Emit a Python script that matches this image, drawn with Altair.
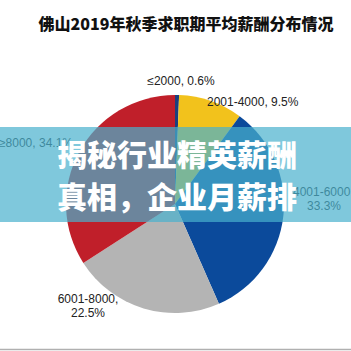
import altair as alt
import pandas as pd

# ---- data ----
categories = ["≤2000", "2001-4000", "4001-6000", "6001-8000", "≥8000"]
shares = [0.6, 9.5, 33.3, 22.5, 34.1]
colors = ["#1c3f7e", "#f2c21c", "#0b4a9b", "#b4b4b4", "#c01f2a"]
title_text = "佛山2019年秋季求职期平均薪酬分布情况"
banner_lines = ["揭秘行业精英薪酬", "真相，企业月薪排"]

df = pd.DataFrame({"cat": categories, "share": shares, "idx": list(range(len(categories)))})

W = H = 351
CX, CY, R = 175, 204, 109

pie = alt.Chart(df).mark_arc(outerRadius=R).encode(
    theta=alt.Theta("share:Q", stack=True),
    order=alt.Order("idx:Q"),
    color=alt.Color("cat:N", scale=alt.Scale(domain=categories, range=colors), legend=None),
    x=alt.value(CX),
    y=alt.value(CY),
)


def txt(s, x, y, size=12, align="center", color="#222222", weight="normal", font="Liberation Sans"):
    return alt.Chart(pd.DataFrame({"t": [s]})).mark_text(
        align=align, baseline="middle", fontSize=size, color=color,
        fontWeight=weight, font=font,
    ).encode(text="t:N", x=alt.value(x), y=alt.value(y))


lab = {c: f"{c}, {s}%" for c, s in zip(categories, shares)}

labels_under = [
    txt(lab["≥8000"], 73, 143, align="right", color="#2a2a2a"),
    txt("4001-6000,", 293, 192, align="left", color="#2a2a2a"),
    txt(f"{shares[2]}%", 324, 206, color="#2a2a2a"),
]

banner = alt.Chart(pd.DataFrame({"a": [0]})).mark_rect(color="#49b0cd", opacity=0.7).encode(
    x=alt.value(0), x2=alt.value(W), y=alt.value(127), y2=alt.value(222)
)

banner_text = [
    txt(banner_lines[0], 57, 157, size=30, align="left", color="white", weight=900, font="Noto Sans CJK SC"),
    txt(banner_lines[1], 57, 199, size=30, align="left", color="white", weight=900, font="Noto Sans CJK SC"),
]

title = txt(title_text, 186, 25, size=16, color="#111111", weight=900, font="Noto Sans CJK SC")

labels_over = [
    txt(lab["≤2000"], 181, 81),
    txt(lab["2001-4000"], 207, 102, align="left"),
    txt("6001-8000,", 88, 299),
    txt(f"{shares[3]}%", 88, 313),
]

bottom_line = alt.Chart(pd.DataFrame({"a": [0]})).mark_rule(color="#b0b0b0", strokeWidth=1.5).encode(
    x=alt.value(0), x2=alt.value(W), y=alt.value(349.5)
)

chart = alt.layer(
    pie, *labels_under, banner, *banner_text, title, *labels_over, bottom_line
).properties(
    width=W, height=H, autosize=alt.AutoSizeParams(type="none"), padding=0, background="white"
).configure_view(stroke=None)

chart.save("out.html", embed_options={"renderer": "svg", "actions": False})
